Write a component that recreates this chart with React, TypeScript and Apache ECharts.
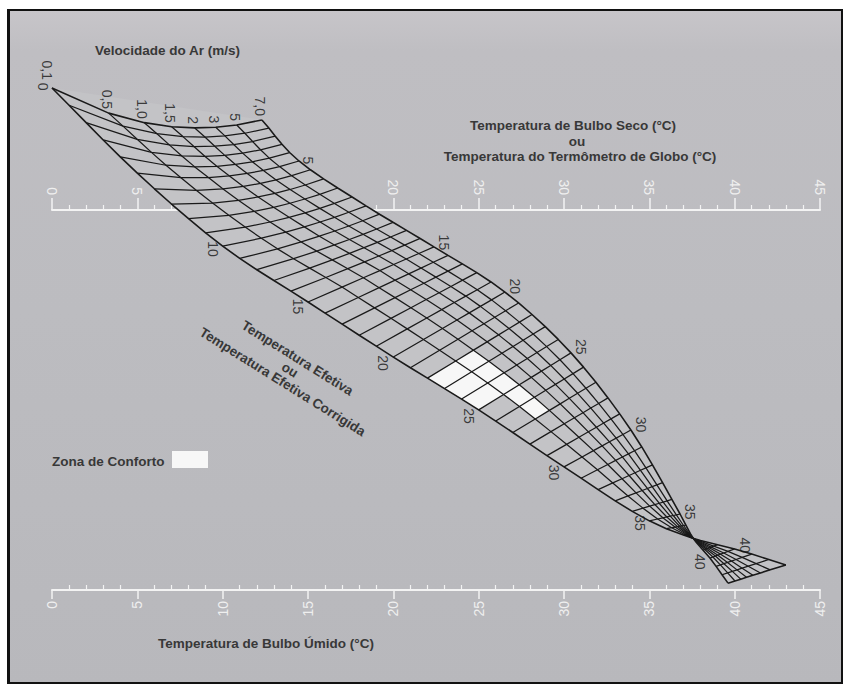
import React, { useEffect, useRef } from "react";
import * as echarts from "echarts";

// ---------------- data ----------------
// Velocidade do Ar (m/s)
const velocityLabels = ["0,1", "0,5", "1,0", "1,5", "2", "3", "5", "7,0"];
// relative position of each velocity curve across the band (0 = 0,1 m/s, 1 = 7,0 m/s)
const velocityFraction = [0, 0.27, 0.44, 0.57, 0.68, 0.78, 0.88, 1];

// Temperatura Efetiva (°C) values at which the two border curves were read
const etAnchors = [0, 5, 10, 15, 20, 25, 30, 35, 37.5, 40, 43];
// 0,1 m/s curve: x equals the ET (°C); vertical unit: top scale = 0, bottom scale = -100
const curveLowY = [32.1, 9.7, -9.5, -24.2, -38.7, -52.6, -67.6, -81.8, -86.3, -89.2, -93.4];
// 7,0 m/s curve
const curveHighX = [12.3, 14.47, 18.4, 22.38, 26.54, 30.41, 33.92, 36.8, 37.56, 38.55, 39.61];
const curveHighY = [23.7, 12.9, 1.1, -9.7, -21.6, -37.6, -57.9, -80.0, -86.3, -91.6, -98.2];
// bowing of the ET lines near the start of the chart
const etBow = [5.5, 2.6, 1.0, 0, 0, 0, 0, 0, 0, 0, 0];

const etFirst = 0;
const etLast = 43;
const etConvergence = 37.5;
const etLabelsLowEnd = [0, 10, 15, 20, 25, 30, 35, 40];
const etLabelsHighEnd = [5, 15, 20, 25, 30, 35, 40];

// Zona de Conforto cells: [ET at the cell start, velocity index]
const comfortCells = [
  [22, 0], [23, 0], [24, 0],
  [22, 1], [23, 1], [24, 1], [25, 1], [26, 1],
];

// scales (°C)
const scaleMin = 0;
const scaleMax = 45;
const scaleStep = 5;

// ---------------- layout ----------------
const W = 850;
const H = 689;
const G = { left: 52, right: 30, top: 20, bottom: 99 };
const Y_MIN = -100;
const Y_MAX = 50;
const PX_X = (W - G.left - G.right) / (scaleMax - scaleMin);
const PX_Y = (H - G.top - G.bottom) / (Y_MAX - Y_MIN);
const FONT = "'Liberation Sans', Arial, Helvetica, sans-serif";

function slopeAt(ts: number[], vs: number[], i: number) {
  return (vs[i + 1] - vs[i]) / (ts[i + 1] - ts[i]);
}
function hermite(ts: number[], vs: number[], t: number) {
  const n = ts.length;
  let k = 0;
  while (k < n - 2 && t > ts[k + 1]) k++;
  const tan = (i: number) => {
    if (i === 0) return slopeAt(ts, vs, 0);
    if (i === n - 1) return slopeAt(ts, vs, n - 2);
    return (slopeAt(ts, vs, i - 1) + slopeAt(ts, vs, i)) / 2;
  };
  const h = ts[k + 1] - ts[k];
  const s = (t - ts[k]) / h;
  const s2 = s * s, s3 = s2 * s;
  return (
    (2 * s3 - 3 * s2 + 1) * vs[k] +
    (s3 - 2 * s2 + s) * h * tan(k) +
    (-2 * s3 + 3 * s2) * vs[k + 1] +
    (s3 - s2) * h * tan(k + 1)
  );
}
function linear(ts: number[], vs: number[], t: number) {
  let k = 0;
  while (k < ts.length - 2 && t > ts[k + 1]) k++;
  const s = (t - ts[k]) / (ts[k + 1] - ts[k]);
  return vs[k] + s * (vs[k + 1] - vs[k]);
}
function ends(e: number) {
  return {
    lx: e,
    ly: hermite(etAnchors, curveLowY, e),
    hx: hermite(etAnchors, curveHighX, e),
    hy: hermite(etAnchors, curveHighY, e),
  };
}
function node(e: number, vi: number): [number, number] {
  const { lx, ly, hx, hy } = ends(e);
  const f = velocityFraction[vi];
  const bow = linear(etAnchors, etBow, e);
  return [lx + f * (hx - lx), ly + f * (hy - ly) - bow * 4 * f * (1 - f)];
}

function range(a: number, b: number) {
  const r: number[] = [];
  for (let i = a; i <= b; i++) r.push(i);
  return r;
}

function textHalfLen(t: string, size: number) {
  let w = 0;
  for (const c of t) w += c === "," ? 0.278 : 0.556;
  return (w * size) / 2;
}

function buildOption() {
  const etLines = range(etFirst, etLast);
  const curveETs = [...etLines, etConvergence].sort((a, b) => a - b);
  const LABEL_SIZE = 14;
  const INK = "#1a1a1a";

  const series: any[] = [];

  // band background
  series.push({
    type: "custom",
    xAxisIndex: 0,
    yAxisIndex: 0,
    z: 1,
    silent: true,
    clip: false,
    data: [[0, 0]],
    renderItem: (_p: any, api: any) => {
      const last = velocityLabels.length - 1;
      const pts = [
        ...curveETs.map((e) => api.coord(node(e, 0))),
        ...curveETs
          .slice()
          .reverse()
          .map((e) => api.coord(node(e, last))),
      ];
      return { type: "polygon", shape: { points: pts }, style: { fill: "#c3c3c6" } };
    },
  });

  // comfort zone cells
  series.push({
    type: "custom",
    xAxisIndex: 0,
    yAxisIndex: 0,
    z: 2,
    silent: true,
    clip: false,
    data: comfortCells,
    renderItem: (_p: any, api: any) => {
      const e = api.value(0);
      const v = api.value(1);
      const pts = [node(e, v), node(e + 1, v), node(e + 1, v + 1), node(e, v + 1)].map((p) =>
        api.coord(p)
      );
      return { type: "polygon", shape: { points: pts }, style: { fill: "#f7f7f7" } };
    },
  });

  // ET lines
  etLines.forEach((e) => {
    series.push({
      type: "line",
      xAxisIndex: 0,
      yAxisIndex: 0,
      z: 3,
      silent: true,
      clip: false,
      symbol: "none",
      data: velocityLabels.map((_, vi) => node(e, vi)),
      lineStyle: { color: INK, width: e === etFirst || e === etLast ? 1.6 : 1.25 },
    });
  });

  // velocity curves
  velocityLabels.forEach((_, vi) => {
    series.push({
      type: "line",
      xAxisIndex: 0,
      yAxisIndex: 0,
      z: 3,
      silent: true,
      clip: false,
      symbol: "none",
      data: curveETs.map((e) => node(e, vi)),
      lineStyle: {
        color: INK,
        width: vi === 0 || vi === velocityLabels.length - 1 ? 1.6 : 1.25,
      },
    });
  });

  // labels
  const labelData: any[] = [];
  velocityLabels.forEach((name, vi) => {
    const [x, y] = node(etFirst, vi);
    const dx = vi === 0 ? -5 : -2;
    const dy = -((vi === 0 ? 8 : 4) + textHalfLen(name, LABEL_SIZE));
    labelData.push({ name, value: [x + dx / PX_X, y - dy / PX_Y] });
  });
  const etLabel = (e: number, atLow: boolean) => {
    const { lx, ly, hx, hy } = ends(e);
    const bx = atLow ? lx : hx;
    const by = atLow ? ly : hy;
    const ox = atLow ? hx : lx;
    const oy = atLow ? hy : ly;
    let ux = (bx - ox) * PX_X;
    let uy = -(by - oy) * PX_Y;
    const n = Math.hypot(ux, uy) || 1;
    ux /= n;
    uy /= n;
    const name = String(e);
    const d = 3 + Math.abs(ux) * 5.5 + Math.abs(uy) * textHalfLen(name, LABEL_SIZE);
    labelData.push({ name, value: [bx + (d * ux) / PX_X, by - (d * uy) / PX_Y] });
  };
  etLabelsLowEnd.forEach((e) => etLabel(e, true));
  etLabelsHighEnd.forEach((e) => etLabel(e, false));

  series.push({
    type: "scatter",
    xAxisIndex: 0,
    yAxisIndex: 0,
    z: 4,
    silent: true,
    clip: false,
    symbolSize: 1,
    itemStyle: { color: "rgba(0,0,0,0)" },
    data: labelData,
    label: {
      show: true,
      position: "inside",
      formatter: "{b}",
      rotate: -90,
      color: "#151515",
      fontSize: LABEL_SIZE,
      fontFamily: FONT,
    },
  });

  const white = "#f3f3f3";
  const axisLabel = { rotate: 90, color: "#efefef", fontSize: 14, fontFamily: FONT };

  const titleStyle = (text: string, x: number, y: number, align: string) => ({
    type: "text",
    x,
    y,
    silent: true,
    style: {
      text,
      fill: "#383838",
      font: `bold 13.5px ${FONT}`,
      align,
      verticalAlign: "middle",
      textAlign: align,
      textVerticalAlign: "middle",
    },
  });

  return {
    animation: false,
    backgroundColor: "transparent",
    grid: [
      { ...G },
      { left: G.left, right: G.right, top: 210, bottom: G.bottom },
      { ...G },
    ],
    xAxis: [
      {
        type: "value",
        gridIndex: 0,
        position: "bottom",
        min: scaleMin,
        max: scaleMax,
        interval: scaleStep,
        axisLine: { show: true, onZero: false, lineStyle: { color: white, width: 2 } },
        axisTick: { show: true, inside: false, length: 9, lineStyle: { color: white, width: 1.5 } },
        minorTick: { show: false },
        axisLabel: { ...axisLabel, margin: 11 },
        splitLine: { show: false },
      },
      {
        type: "value",
        gridIndex: 1,
        position: "top",
        min: scaleMin,
        max: scaleMax,
        interval: scaleStep,
        axisLine: { show: true, onZero: false, lineStyle: { color: white, width: 2 } },
        axisTick: { show: true, length: 12, lineStyle: { color: white, width: 1.5 } },
        minorTick: { show: true, splitNumber: 5, length: 5, lineStyle: { color: white, width: 1.2 } },
        axisLabel: { ...axisLabel, margin: 15 },
        splitLine: { show: false },
      },
      {
        type: "value",
        gridIndex: 2,
        position: "bottom",
        min: scaleMin,
        max: scaleMax,
        interval: scaleStep,
        axisLine: { show: false, onZero: false },
        axisTick: { show: false, inside: true },
        minorTick: { show: true, splitNumber: 5, length: 5, lineStyle: { color: white, width: 1.2 } },
        axisLabel: { show: false },
        splitLine: { show: false },
      },
    ],
    yAxis: [
      { type: "value", gridIndex: 0, min: Y_MIN, max: Y_MAX, show: false },
      { type: "value", gridIndex: 1, min: 0, max: 1, show: false },
      { type: "value", gridIndex: 2, min: 0, max: 1, show: false },
    ],
    series,
    graphic: [
      titleStyle("Velocidade do Ar (m/s)", 95, 50, "left"),
      titleStyle("Temperatura de Bulbo Seco (°C)", 573, 125, "center"),
      titleStyle("ou", 577, 141, "center"),
      titleStyle("Temperatura do Termômetro de Globo (°C)", 580, 156, "center"),
      titleStyle("Temperatura de Bulbo Úmido (°C)", 158, 643, "left"),
      {
        type: "group",
        x: 290,
        y: 370,
        rotation: (-32 * Math.PI) / 180,
        children: [
          titleStyle("Temperatura Efetiva", 0, -14, "center"),
          titleStyle("ou", 0, 0, "center"),
          titleStyle("Temperatura Efetiva Corrigida", 0, 14, "center"),
        ],
      },
      titleStyle("Zona de Conforto", 52, 461, "left"),
      {
        type: "rect",
        shape: { x: 172, y: 451, width: 36, height: 17 },
        style: { fill: "#f7f7f7" },
        silent: true,
      },
    ],
  };
}

export default function App() {
  const ref = useRef<HTMLDivElement>(null);
  useEffect(() => {
    const chart = echarts.init(ref.current!, undefined, { renderer: "svg", width: W, height: H });
    chart.setOption(buildOption() as any);
    return () => chart.dispose();
  }, []);
  return (
    <div style={{ position: "fixed", left: 0, top: 0, width: W, height: H, background: "#ffffff" }}>
      <div
        style={{
          position: "absolute",
          left: 7,
          top: 9,
          width: 831,
          height: 671,
          borderStyle: "solid",
          borderColor: "#111",
          borderWidth: "2px 2px 2px 3px",
          background: "linear-gradient(#c7c5c9 0px, #bfbec2 40px, #bcbcc0 300px, #b8b8bc 680px)",
        }}
      />
      <div ref={ref} style={{ position: "absolute", left: 0, top: 0, width: W, height: H }} />
    </div>
  );
}
